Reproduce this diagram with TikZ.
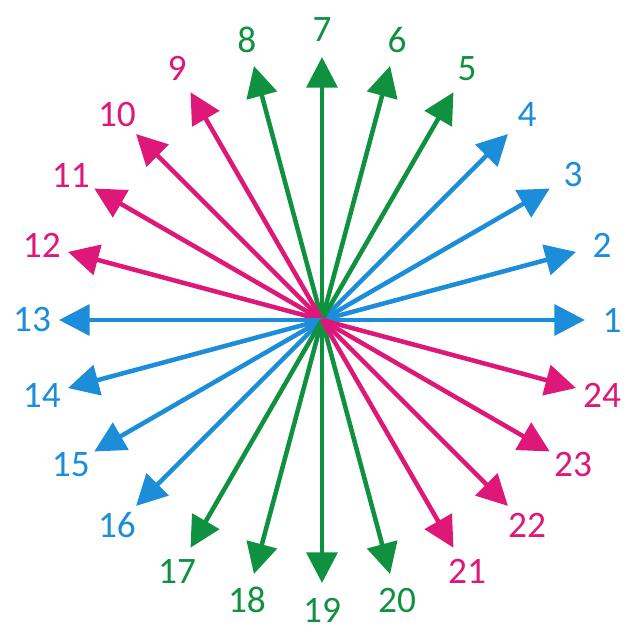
\documentclass[tikz,border=0pt]{standalone}
\usepackage{fontspec}
\setmainfont{Carlito}
\usetikzlibrary{arrows.meta}
\definecolor{cblue}{RGB}{27,141,217}
\definecolor{cgreen}{RGB}{16,145,64}
\definecolor{cpink}{RGB}{222,24,120}
\begin{document}
\begin{tikzpicture}[x=0.75pt,y=0.75pt,
  ray/.style={line width=3.4pt,-{Triangle[length=23pt,width=23pt]}},
  lab/.style={font=\fontsize{28}{28}\selectfont,inner sep=0pt}]
\useasboundingbox (0,0) rectangle (632,632);
\coordinate (c) at (322,312);
\foreach \i in {1,...,24}{
  \pgfmathsetmacro\ang{(\i-1)*15}
  \pgfmathtruncatemacro\grp{mod(div(\i-1,4),3)}
  \ifcase\grp \def\col{cblue}\or \def\col{cgreen}\or \def\col{cpink}\fi
  \coordinate (t\i) at ({322+263*cos(\ang)},{312+263*sin(\ang)});
  \draw[ray,\col] (c) -- (t\i);
  \node[lab,text=\col] (l\i) at ({322+290*cos(\ang)},{312+290*sin(\ang)}) {\i};
}
\end{tikzpicture}
\end{document}
